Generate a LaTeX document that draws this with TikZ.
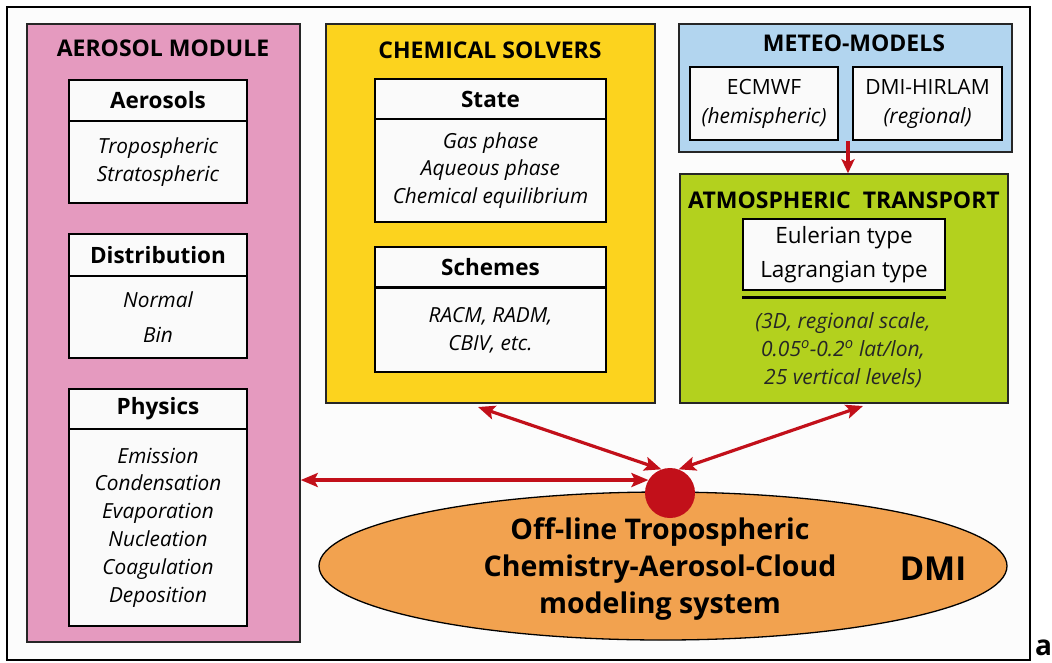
\documentclass[tikz,border=0pt]{standalone}
\usepackage{fontspec}
\setmainfont{Open Sans}
\usetikzlibrary{arrows.meta,shapes.geometric}
\definecolor{pinkM}{HTML}{E59ABF}
\definecolor{yellowM}{HTML}{FCD31E}
\definecolor{blueM}{HTML}{B2D5EF}
\definecolor{greenM}{HTML}{B3D11E}
\definecolor{orangeM}{HTML}{F2A24F}
\definecolor{redM}{HTML}{C2101A}
\definecolor{boxW}{HTML}{FAFAFA}
\definecolor{bgW}{HTML}{FCFCFC}
\tikzset{
  module/.style={draw=black!85, line width=1.5pt, inner sep=0pt},
  ttl/.style={font=\bfseries\fontsize{23}{23}\selectfont, inner sep=0pt},
  hdr/.style={draw, line width=1.4pt, fill=boxW, inner sep=0pt, font=\bfseries\fontsize{22.5}{22.5}\selectfont},
  body/.style={draw, line width=1.4pt, fill=boxW, inner sep=0pt, align=center, font=\itshape\fontsize{20.8}{27.8}\selectfont},
  plainbox/.style={draw, line width=1.4pt, fill=boxW, inner sep=0pt, align=center, font=\fontsize{21}{29}\selectfont},
  arr/.style={draw=redM, line width=3.2pt, {Stealth[length=17pt,width=14pt,inset=3.5pt]}-{Stealth[length=17pt,width=14pt,inset=3.5pt]}},
  arrone/.style={draw=redM, line width=3.5pt, -{Stealth[length=14pt,width=13pt,inset=3pt]}}
}
\begin{document}
\begin{tikzpicture}[x=1pt,y=-1pt]
\useasboundingbox (0,0) rectangle (1052,662);
\fill[white] (0,0) rectangle (1052,662);
\node[draw, line width=2pt, fill=bgW, minimum width=1023, minimum height=653, inner sep=0pt] (frame) at (518.5,333.5) {};

% Aerosol module
\node[module, fill=pinkM, minimum width=273, minimum height=618] (aero) at (163.5,333) {};
\node[ttl] (aeroT) at (163,48) {AEROSOL MODULE};
\node[hdr, minimum width=178, minimum height=41] (aerH) at (158,100.5) {Aerosols};
\node[body, minimum width=178, minimum height=82] (aerB) at (158,162) {Tropospheric\\Stratospheric};
\node[hdr, minimum width=178, minimum height=42] (disH) at (158,255) {Distribution};
\node[body, minimum width=178, minimum height=82, font=\itshape\fontsize{20.8}{35}\selectfont] (disB) at (158,317) {Normal\\Bin};
\node[hdr, minimum width=178, minimum height=40] (phyH) at (158,409) {Physics};
\node[body, minimum width=178, minimum height=197] (phyB) at (158,527.5) {Emission\\Condensation\\Evaporation\\Nucleation\\Coagulation\\Deposition};

% Chemical solvers
\node[module, fill=yellowM, minimum width=329, minimum height=379] (chem) at (490.5,213.5) {};
\node[ttl] (chemT) at (490,50) {CHEMICAL SOLVERS};
\node[hdr, minimum width=231, minimum height=40] (staH) at (490.5,99) {State};
\node[body, minimum width=231, minimum height=103] (staB) at (490.5,170.5) {Gas phase\\Aqueous phase\\Chemical equilibrium};
\node[hdr, minimum width=231, minimum height=40] (schH) at (490.5,267) {Schemes};
\node[body, minimum width=231, minimum height=84] (schB) at (490.5,330) {RACM, RADM,\\CBIV, etc.};

% Meteo models
\node[module, fill=blueM, minimum width=333, minimum height=128] (met) at (845.5,88) {};
\node[ttl] (metT) at (854,43) {METEO-MODELS};
\node[plainbox, minimum width=148, minimum height=73] (ecmwf) at (764,103.5) {ECMWF\\\textit{(hemispheric)}};
\node[plainbox, minimum width=149, minimum height=73] (hirlam) at (927.5,103.5) {DMI-HIRLAM\\\textit{(regional)}};

% Atmospheric transport
\node[module, fill=greenM, minimum width=328, minimum height=229] (atm) at (844,288.5) {};
\node[ttl] (atmT) at (844,200) {ATMOSPHERIC\ \ TRANSPORT};
\node[plainbox, minimum width=202, minimum height=71, font=\fontsize{22.5}{34}\selectfont] (euler) at (844,254.5) {Eulerian type\\Lagrangian type};
\draw[line width=3.5pt] ([yshift=-7pt]euler.south west) -- ([yshift=-7pt]euler.south east);
\node[align=center, inner sep=0pt, text=black!85, font=\itshape\fontsize{21}{28}\selectfont] (atmInfo) at (843,350) {(3D, regional scale,\\0.05\textsuperscript{o}-0.2\textsuperscript{o} lat/lon,\\25 vertical levels)};

% Central system
\node[ellipse, draw, line width=1.3pt, fill=orangeM, minimum width=688, minimum height=148, inner sep=0pt] (sys) at (663,566) {};
\node[align=center, inner sep=0pt, font=\bfseries\fontsize{28.5}{37}\selectfont] (sysT) at (660,569) {Off-line Tropospheric\\Chemistry-Aerosol-Cloud\\modeling system};
\node[inner sep=0pt, font=\bfseries\fontsize{33}{33}\selectfont] (dmi) at (933,569) {DMI};
\node[circle, fill=redM, minimum size=50, inner sep=0pt] (hub) at (670,493) {};

\node[anchor=base west, inner sep=0pt, font=\bfseries\fontsize{28}{28}\selectfont] (lbl) at (1035,655) {a};

% connectors
\coordinate (chemEnd) at (478,407);
\coordinate (atmEnd) at (863,406);
\coordinate (metEnd) at (848,141);
\draw[arr] (aero.east |- hub.149) -- (hub.149);
\draw[arr] (chemEnd) -- (hub.110);
\draw[arr] (atmEnd) -- (hub.70);
\draw[arrone] (metEnd) -- (metEnd |- atm.north);
\end{tikzpicture}
\end{document}
